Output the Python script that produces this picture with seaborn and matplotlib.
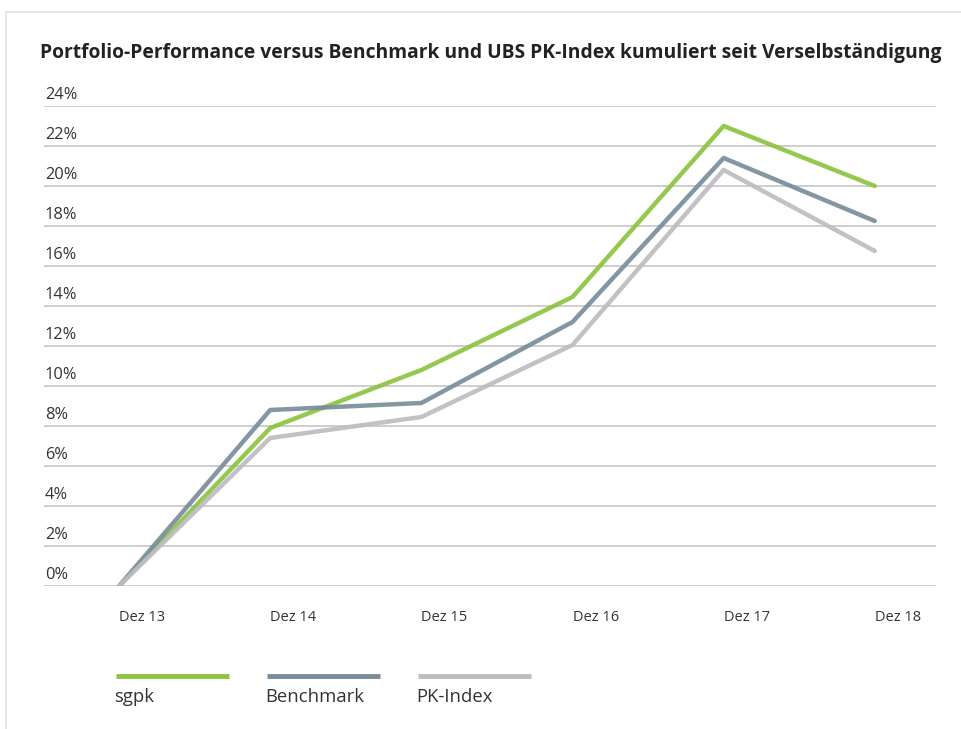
import matplotlib
matplotlib.use("Agg")
import matplotlib.pyplot as plt
from matplotlib.lines import Line2D
import seaborn as sns
import pandas as pd

# values (cumulative performance in %)
periods = ["Dez 13", "Dez 14", "Dez 15", "Dez 16", "Dez 17", "Dez 18"]
sgpk = [0.0, 7.9, 10.8, 14.45, 23.0, 20.0]
benchmark = [0.0, 8.8, 9.15, 13.2, 21.4, 18.25]
pk_index = [0.0, 7.4, 8.45, 12.05, 20.8, 16.75]
series_names = ["sgpk", "Benchmark", "PK-Index"]
y_ticks = list(range(0, 25, 2))

colors = ["#8cc43f", "#788d99", "#bdbdc1"]
title = "Portfolio-Performance versus Benchmark und UBS PK-Index kumuliert seit Verselbständigung"

sns.set_theme(style="white")
plt.rcParams["font.family"] = ["Open Sans", "DejaVu Sans"]

rows = []
for name, vals in zip(series_names, [sgpk, benchmark, pk_index]):
    for i, v in enumerate(vals):
        rows.append({"idx": i, "Wert": v, "Serie": name})
df = pd.DataFrame(rows)

fig = plt.figure(figsize=(9.61, 7.29), dpi=100)
ax = fig.add_axes([0.0458, 0.1962, 0.928, 0.6584])

for y in y_ticks:
    ax.axhline(y, color="#c6c6c6", lw=1.2, zorder=0)

sns.lineplot(data=df, x="idx", y="Wert", hue="Serie", hue_order=series_names,
             palette=colors, lw=3.2, alpha=0.92, legend=False, ax=ax, zorder=3)

ax.set_xlim(-0.497, 5.404)
ax.set_ylim(0, 24)
for s in ax.spines.values():
    s.set_visible(False)
ax.set_xlabel("")
ax.set_ylabel("")
ax.set_yticks([])
ax.set_xticks(range(len(periods)))
ax.set_xticklabels(periods, ha="left", fontsize=10.5, color="#333333")
ax.tick_params(axis="x", length=0, pad=17)

# y labels sit above each gridline at the left
for y in y_ticks:
    ax.text(0.001, y + 0.15, f"{y}%", transform=ax.get_yaxis_transform(),
            ha="left", va="bottom", fontsize=11.8, color="#333333")

fig.text(0.0416, 0.927, title, fontsize=13.9, fontweight="bold", color="#222222",
         ha="left", va="center")

# legend: line segment with the label underneath
leg_x = [0.1207, 0.2778, 0.4349]
for x0, name, c in zip(leg_x, series_names, colors):
    fig.add_artist(Line2D([x0, x0 + 0.1176], [0.0722, 0.0722], color=c, lw=3.5,
                          solid_capstyle="butt", transform=fig.transFigure))
    fig.text(x0 - 0.002, 0.0435, name, fontsize=13.3, color="#333333",
             ha="left", va="center")

# light frame at top and left
fig.add_artist(Line2D([0.006, 1.0], [0.9835, 0.9835], color="#e2e2e2", lw=1.2,
                      transform=fig.transFigure))
fig.add_artist(Line2D([0.006, 0.006], [0.0, 0.9835], color="#e2e2e2", lw=1.2,
                      transform=fig.transFigure))

fig.savefig("out.png", dpi=100)
